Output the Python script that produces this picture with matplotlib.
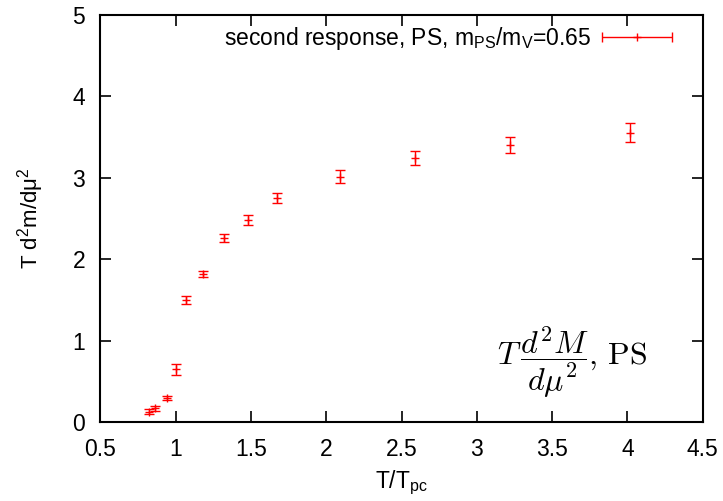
import numpy as np
import matplotlib
matplotlib.use('Agg')
import matplotlib.pyplot as plt
from matplotlib.legend_handler import HandlerErrorbar

# data
t_ratio = [0.82, 0.86, 0.94, 1.00, 1.07, 1.18, 1.32, 1.48, 1.67, 2.09, 2.59, 3.22, 4.02]
d2m = [0.13, 0.17, 0.30, 0.65, 1.50, 1.82, 2.26, 2.48, 2.75, 3.01, 3.24, 3.40, 3.55]
d2m_err = [0.03, 0.03, 0.02, 0.065, 0.05, 0.04, 0.055, 0.065, 0.065, 0.08, 0.09, 0.10, 0.115]
x_ticks = [0.5, 1, 1.5, 2, 2.5, 3, 3.5, 4, 4.5]
x_tick_labels = ['0.5', '1', '1.5', '2', '2.5', '3', '3.5', '4', '4.5']
y_ticks = [0, 1, 2, 3, 4, 5]

plt.rcParams['font.family'] = ['Liberation Sans', 'DejaVu Sans']
plt.rcParams['mathtext.fontset'] = 'custom'
plt.rcParams['mathtext.rm'] = 'Liberation Sans'
plt.rcParams['mathtext.it'] = 'Liberation Sans:italic'

red = '#ff0000'
fs = 16.5

fig = plt.figure(figsize=(7.23, 5.01), dpi=100)
ax = fig.add_axes([0.139, 0.157, 0.833, 0.814])

ax.errorbar(t_ratio, d2m, yerr=d2m_err, fmt='+', color=red, ms=6, mew=1,
            elinewidth=1, capsize=3.6, capthick=1)

# legend sample in gnuplot style: horizontal error bar
proxy = ax.errorbar([np.nan], [np.nan], xerr=[1], fmt='+', color=red, ms=6,
                    mew=1, elinewidth=1, capsize=3.6, capthick=1,
                    label=r'second response, PS, m$_{\mathrm{PS}}$/m$_{\mathrm{V}}$=0.65')
ax.legend(handles=[proxy], loc='center right', bbox_to_anchor=(0.9486, 0.940),
          frameon=False, markerfirst=False, fontsize=fs, handlelength=3.05,
          handletextpad=0.45, borderpad=0, borderaxespad=0,
          handler_map={type(proxy): HandlerErrorbar(xerr_size=1.52)})

ax.text(0.783, 0.148, r'$T\,\dfrac{d^2M}{d\mu^2},\,\mathrm{PS}$', transform=ax.transAxes,
        ha='center', va='center', fontsize=23, math_fontfamily='cm')

ax.set_xlim(0.5, 4.5)
ax.set_ylim(0, 5)
ax.set_xticks(x_ticks)
ax.set_xticklabels(x_tick_labels)
ax.set_yticks(y_ticks)
ax.tick_params(direction='in', length=8, width=1.2, top=True, right=True,
               labelsize=fs, pad=11)
for s in ax.spines.values():
    s.set_linewidth(1.5)

ax.set_xlabel(r'T/T$_{\mathrm{pc}}$', fontsize=fs, labelpad=6)
ax.set_ylabel(r'T d$^2$m/dμ$^2$', fontsize=16, labelpad=19)

fig.savefig('out.png', dpi=100)
